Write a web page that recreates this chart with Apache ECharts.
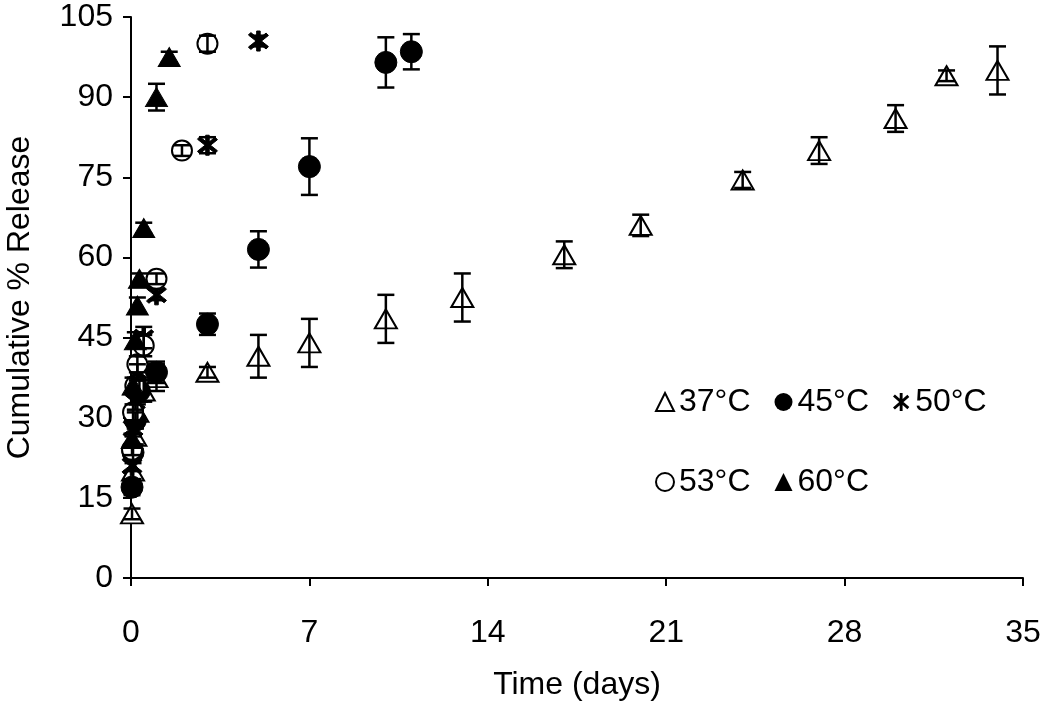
<!DOCTYPE html>
<html>
<head>
<meta charset="utf-8">
<script src="https://cdn.jsdelivr.net/npm/echarts@6/dist/echarts.min.js"></script>
<style>html,body{margin:0;padding:0;background:#fff;}#c{width:1050px;height:702px;}</style>
</head>
<body>
<div id="c"></div>
<script>
// ---- data ----
const xTicks = [0, 7, 14, 21, 28, 35];
const yTicks = [0, 15, 30, 45, 60, 75, 90, 105];

const t37 = [0.04, 0.08, 0.17, 0.25, 0.5, 1, 3, 5, 7, 10, 13, 17, 20, 24, 27, 30, 32, 34];
const v37 = [12, 20, 26.5, 31, 35, 37.5, 38.5, 41.5, 44, 48.5, 52.5, 60.5, 66, 74.5, 80, 86, 94, 95];
const e37 = [1, 1.5, 1.5, 1.5, 2, 2.5, 1, 4, 4.5, 4.5, 4.5, 2.5, 2, 1.5, 2.5, 2.5, 1, 4.5];

const t45 = [0.04, 0.08, 0.17, 0.33, 1, 3, 5, 7, 10, 11];
const v45 = [17, 23.5, 29.5, 35, 38.5, 47.5, 61.5, 77, 96.5, 98.5];
const e45 = [1.5, 1.5, 1.5, 2, 2, 2, 3.4, 5.3, 4.7, 3.3];

const t50 = [0.04, 0.08, 0.17, 0.25, 0.5, 1, 3, 5];
const v50 = [21, 28, 33, 38.5, 45, 53, 81, 100.5];
const e50 = [1, 1.5, 1.5, 1.5, 2, 1, 1.5, 1];

const t53 = [0.04, 0.08, 0.17, 0.25, 0.5, 1, 2, 3];
const v53 = [24, 31, 36, 40, 43.5, 56, 80, 100];
const e53 = [1, 1.5, 1.5, 1.5, 2, 1, 1, 1.5];

const t60 = [0.04, 0.08, 0.17, 0.25, 0.33, 0.5, 1, 1.5];
const v60 = [26, 36, 44.5, 51, 56, 65.5, 90, 97.5];
const e60 = [1, 1.5, 1.5, 1.5, 1, 1, 2.5, 1];

const names = ['37°C', '45°C', '50°C', '53°C', '60°C'];
// ---------------

const asterisk = 'path://M8.4 0L11.6 0L11.6 20L8.4 20Z M3.06 1.55L19.06 15.55L16.94 17.95L0.94 3.95Z M0.94 16.05L16.94 2.05L19.06 4.45L3.06 18.45Z';
const FONT = 'Liberation Sans, Arial, sans-serif';

function pts(t, v) { return t.map((x, i) => [x, v[i]]); }
function errs(t, v, e) { return t.map((x, i) => [x, v[i], e[i]]); }

function errSeries(name, t, v, e) {
  return {
    name: name + ' err', type: 'custom', silent: true, z: 5,
    data: errs(t, v, e),
    renderItem: function (params, api) {
      const x = api.value(0), y = api.value(1), d = api.value(2);
      const hi = api.coord([x, y + d]);
      const lo = api.coord([x, y - d]);
      const cw = 8.5;
      const st = { stroke: '#000', lineWidth: 2.5 };
      return {
        type: 'group', children: [
          { type: 'line', shape: { x1: hi[0], y1: hi[1], x2: lo[0], y2: lo[1] }, style: st },
          { type: 'line', shape: { x1: hi[0] - cw, y1: hi[1], x2: hi[0] + cw, y2: hi[1] }, style: st },
          { type: 'line', shape: { x1: lo[0] - cw, y1: lo[1], x2: lo[0] + cw, y2: lo[1] }, style: st }
        ]
      };
    }
  };
}

function scat(name, t, v, symbol, size) {
  return {
    name: name, type: 'scatter', data: pts(t, v), symbol: symbol, symbolSize: size, z: 3,
    itemStyle: { color: '#000', borderColor: '#000', opacity: 1 },
    emphasis: { disabled: true }
  };
}

const chart = echarts.init(document.getElementById('c'), null, { renderer: 'canvas' });
const legendText = { fontFamily: FONT, fontSize: 32, color: '#000' };
chart.setOption({
  animation: false,
  backgroundColor: '#fff',
  grid: { left: 131, right: 27, top: 17, bottom: 124, outerBoundsMode: 'none', containLabel: false },
  xAxis: {
    type: 'value', min: xTicks[0], max: xTicks[xTicks.length - 1], interval: 7,
    name: 'Time (days)', nameLocation: 'middle', nameGap: 91,
    nameTextStyle: { fontFamily: FONT, fontSize: 32, color: '#000' },
    axisLine: { lineStyle: { color: '#000', width: 2 } },
    axisTick: { show: true, inside: false, length: 8, lineStyle: { color: '#000', width: 2 } },
    axisLabel: { fontFamily: FONT, fontSize: 32, color: '#000', margin: 39 },
    splitLine: { show: false }
  },
  yAxis: {
    type: 'value', min: yTicks[0], max: yTicks[yTicks.length - 1], interval: 15,
    name: 'Cumulative % Release', nameLocation: 'middle', nameGap: 95,
    nameTextStyle: { fontFamily: FONT, fontSize: 32, color: '#000' },
    axisLine: { show: true, lineStyle: { color: '#000', width: 2 } },
    axisTick: { show: true, inside: false, length: 8, lineStyle: { color: '#000', width: 2 } },
    axisLabel: { fontFamily: FONT, fontSize: 32, color: '#000', margin: 18 },
    splitLine: { show: false }
  },
  legend: [
    { data: names.slice(0, 3), left: 655, top: 386, padding: 0, itemGap: 24, itemWidth: 18, itemHeight: 18, textStyle: legendText, selectedMode: false },
    { data: names.slice(3), left: 655, top: 466, padding: 0, itemGap: 24, itemWidth: 18, itemHeight: 18, textStyle: legendText, selectedMode: false }
  ],
  series: [
    scat(names[0], t37, v37, 'emptyTriangle', [22, 19]),
    scat(names[1], t45, v45, 'circle', 22),
    scat(names[2], t50, v50, asterisk, 20),
    scat(names[3], t53, v53, 'emptyCircle', 20),
    scat(names[4], t60, v60, 'triangle', [22, 19]),
    errSeries(names[0], t37, v37, e37),
    errSeries(names[1], t45, v45, e45),
    errSeries(names[2], t50, v50, e50),
    errSeries(names[3], t53, v53, e53),
    errSeries(names[4], t60, v60, e60)
  ]
});
</script>
</body>
</html>
